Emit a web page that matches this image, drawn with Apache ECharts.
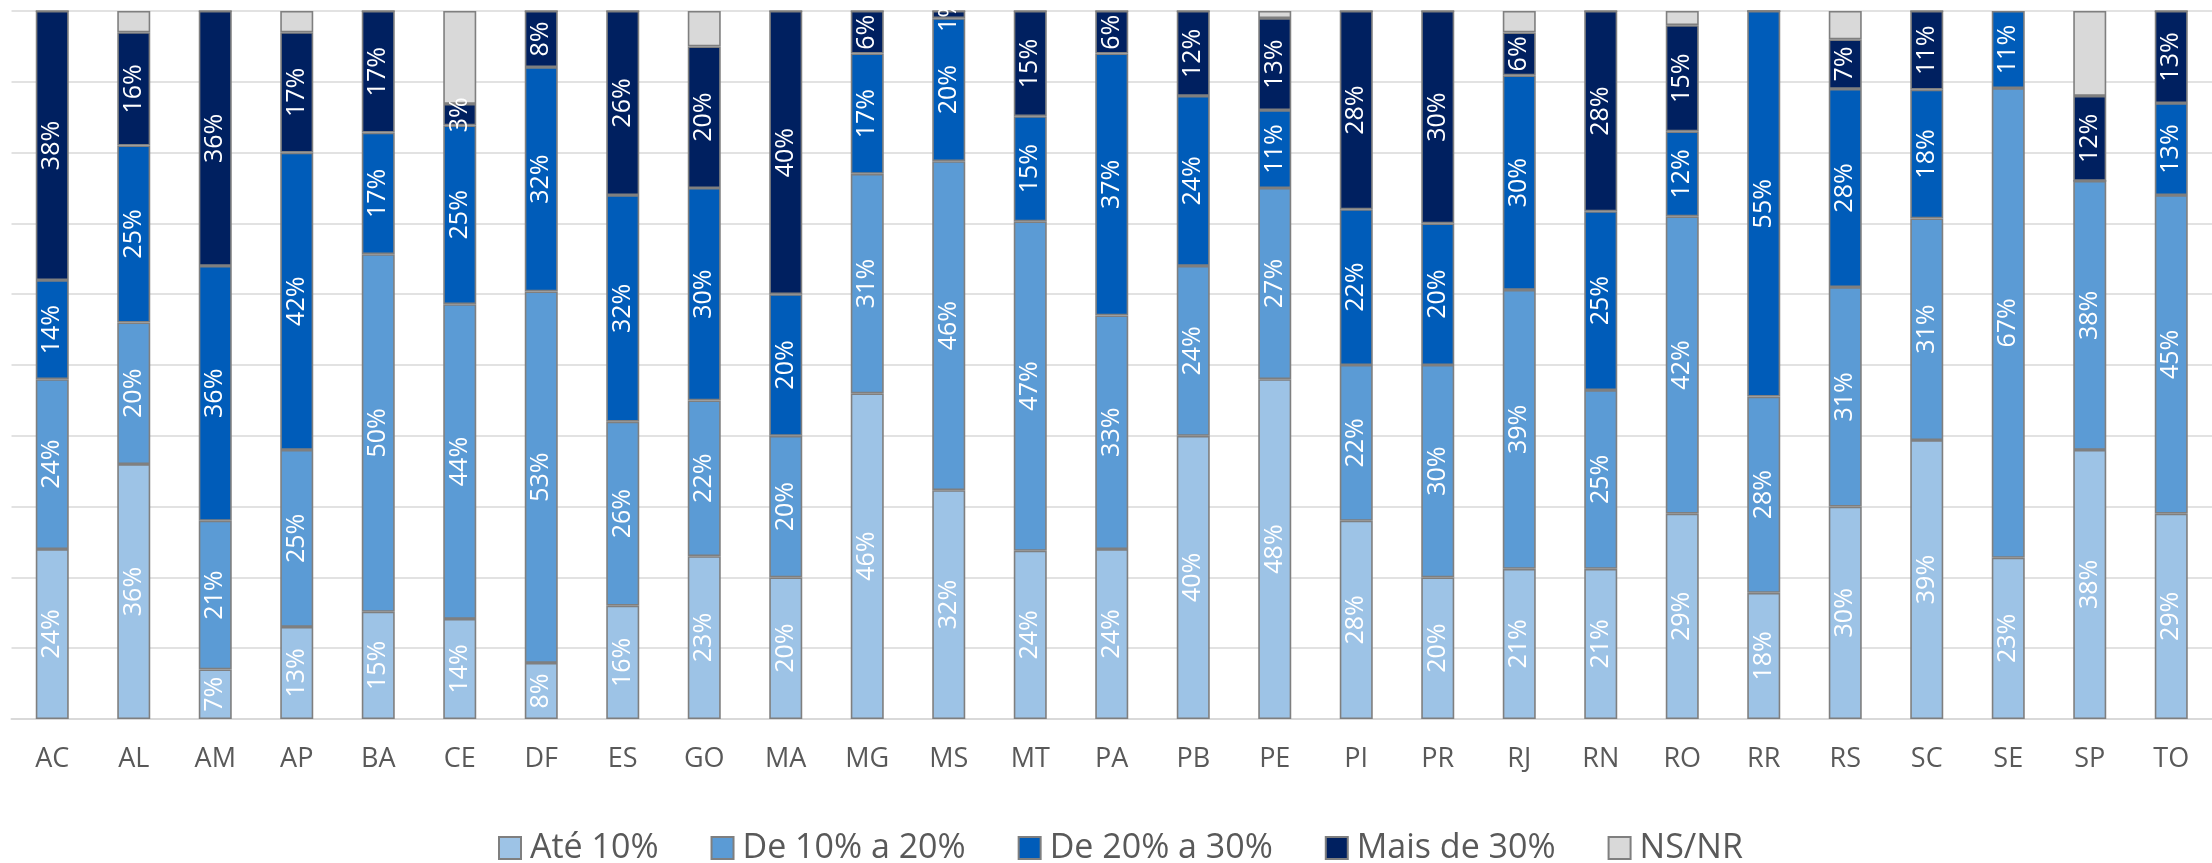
<!DOCTYPE html>
<html>
<head>
<meta charset="utf-8">
<title>Distribuição por UF</title>
<script src="https://cdn.jsdelivr.net/npm/echarts@6/dist/echarts.min.js"></script>
<style>
  html, body { margin: 0; padding: 0; background: #ffffff; }
  #chart { width: 2212px; height: 863px; }
</style>
</head>
<body>
<div id="chart"></div>
<script>
// Unidades da federação
const categories = ['AC','AL','AM','AP','BA','CE','DF','ES','GO','MA','MG','MS','MT','PA','PB','PE','PI','PR','RJ','RN','RO','RR','RS','SC','SE','SP','TO'];

// Percentuais por faixa (%)
const ate10    = [24,36, 7,13,15,14, 8,16,23,20,46,32,24,24,40,48,28,20,21,21,29,18,30,39,23,38,29];
const de10a20  = [24,20,21,25,50,44,53,26,22,20,31,46,47,33,24,27,22,30,39,25,42,28,31,31,67,38,45];
const de20a30  = [14,25,36,42,17,25,32,32,30,20,17,20,15,37,24,11,22,20,30,25,12,55,28,18,11, 0,13];
const mais30   = [38,16,36,17,17, 3, 8,26,20,40, 6, 1,15, 6,12,13,28,30, 6,28,15, 0, 7,11, 0,12,13];
const nsnr     = [ 0, 3, 0, 3, 0,13, 0, 0, 5, 0, 0, 0, 0, 0, 0, 1, 0, 0, 3, 0, 2, 0, 4, 0, 0,12, 0];

const seriesNames = ['Até 10%', 'De 10% a 20%', 'De 20% a 30%', 'Mais de 30%', 'NS/NR'];
const seriesValues = [ate10, de10a20, de20a30, mais30, nsnr];
const seriesColors = ['#9DC3E6', '#5B9BD5', '#005CB9', '#002060', '#D9D9D9'];

// 100% stacked: each column is scaled to its own total
const totals = categories.map((_, i) => seriesValues.reduce((s, arr) => s + arr[i], 0));

const FONT = '"Open Sans", "Noto Sans", sans-serif';

const series = seriesNames.map((name, k) => ({
  name: name,
  type: 'bar',
  stack: 'total',
  barWidth: 33,
  data: seriesValues[k].map((v, i) => ({ value: v / totals[i] * 100, raw: v })),
  itemStyle: {
    color: seriesColors[k],
    borderColor: '#7F7F7F',
    borderWidth: 1.6
  },
  label: {
    show: k < 4,
    position: 'inside',
    rotate: 90,
    color: '#FFFFFF',
    fontFamily: FONT,
    fontSize: 25,
    formatter: p => (p.data.raw > 0 ? p.data.raw + '%' : '')
  },
  emphasis: { disabled: true }
}));

const chart = echarts.init(document.getElementById('chart'), null, { renderer: 'canvas' });
chart.setOption({
  animation: false,
  backgroundColor: '#FFFFFF',
  grid: { left: 11.5, right: -24, top: 11, bottom: 144, containLabel: false },
  legend: {
    data: seriesNames,
    left: 498,
    top: 830,
    padding: 0,
    itemWidth: 22,
    itemHeight: 22,
    itemGap: 52,
    icon: 'rect',
    textStyle: { color: '#595959', fontFamily: FONT, fontSize: 34, lineHeight: 36, padding: [0, 0, 0, 4] }
  },
  xAxis: {
    type: 'category',
    data: categories,
    axisLine: { lineStyle: { color: '#D9D9D9', width: 2 } },
    axisTick: { show: false },
    axisLabel: { color: '#595959', fontFamily: FONT, fontSize: 27, margin: 27 }
  },
  yAxis: {
    type: 'value',
    min: 0,
    max: 100,
    interval: 10,
    axisLabel: { show: false },
    axisLine: { show: false },
    axisTick: { show: false },
    splitLine: { lineStyle: { color: '#D9D9D9', width: 1.6 } }
  },
  series: series
});
</script>
</body>
</html>
